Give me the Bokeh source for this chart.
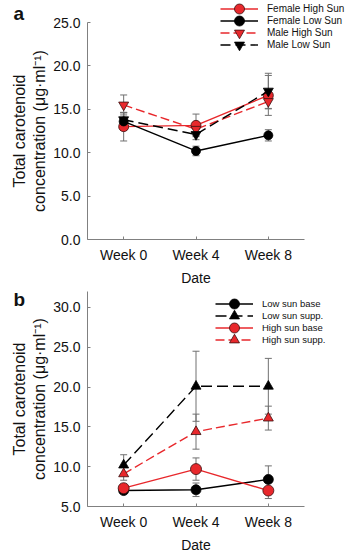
from bokeh.plotting import figure
from bokeh.models import (ColumnDataSource, Whisker, TeeHead, Legend, LegendItem,
                          FixedTicker, Label, NumeralTickFormatter, GridBox)
from bokeh.layouts import column
from bokeh.embed import file_html
from bokeh.resources import INLINE

weeks = ["Week 0", "Week 4", "Week 8"]
xpos = [0, 1, 2]

# Panel a
fem_high = [13.0, 13.15, 16.6]
fem_high_se = [1.65, 1.3, 2.3]
fem_low = [13.6, 10.2, 12.0]
fem_low_se = [1.0, 0.55, 0.65]
male_high = [15.5, 12.7, 15.9]
male_high_se = [1.15, 0.7, 0.8]
male_low = [13.8, 12.1, 17.1]
male_low_se = [0.8, 0.6, 2.05]

# Panel b
low_base = [7.0, 7.1, 8.4]
low_base_se = [0.3, 0.85, 1.7]
low_supp = [10.2, 20.1, 20.1]
low_supp_se = [1.3, 4.4, 3.5]
high_base = [7.3, 9.7, 7.0]
high_base_se = [0.5, 1.4, 1.0]
high_supp = [9.1, 14.4, 16.1]
high_supp_se = [0.8, 2.2, 1.5]

RED = "#E8282C"
BLK = "#000000"
RED_EDGE = "#3a1010"
AXC = "#808080"
ERRC = "#707070"
FONT = "Liberation Sans"
YTITLE = "Total carotenoid\nconcentration (\u03bcg\u00b7ml\u207b\u00b9)"

# style of each series: (label, color, marker, dash, size, fill, outline)
STYLE_A = [
    ("Female High Sun", RED, "circle", "solid", 10, RED, RED_EDGE),
    ("Female Low Sun", BLK, "circle", "solid", 9, BLK, BLK),
    ("Male High Sun", RED, "inverted_triangle", "9 4", 10, RED, RED_EDGE),
    ("Male Low Sun", BLK, "inverted_triangle", "10 5", 10, BLK, BLK),
]
STYLE_B = [
    ("Low sun base", BLK, "circle", "solid", 10, BLK, BLK),
    ("Low sun supp.", BLK, "triangle", "11 5", 10, BLK, BLK),
    ("High sun base", RED, "circle", "solid", 11, RED, RED_EDGE),
    ("High sun supp.", RED, "triangle", "9 4", 10, RED, RED_EDGE),
]


def make_fig(height, min_top, min_bottom, min_left, yr, yticks):
    p = figure(width=352, height=height, output_backend="svg", toolbar_location=None,
               x_range=(-0.5, 2.5), y_range=yr,
               min_border_left=min_left, min_border_right=352 - min_left - 219,
               min_border_top=min_top, min_border_bottom=min_bottom)
    p.outline_line_color = None
    p.grid.visible = False
    p.background_fill_color = "white"
    p.border_fill_color = "white"
    for ax in (p.xaxis[0], p.yaxis[0]):
        ax.axis_line_color = AXC
        ax.major_tick_line_color = AXC
        ax.major_tick_in = 3
        ax.major_tick_out = 0
        ax.minor_tick_line_color = None
        ax.major_label_text_font = FONT
        ax.major_label_text_font_size = "14px"
        ax.major_label_text_color = "#111111"
        ax.axis_label_text_font = FONT
        ax.axis_label_text_font_style = "normal"
        ax.axis_label_text_color = "#111111"
    p.xaxis.ticker = FixedTicker(ticks=xpos)
    p.xaxis.major_label_overrides = {i: w for i, w in zip(xpos, weeks)}
    p.xaxis.axis_label = "Date"
    p.xaxis.axis_label_text_font_size = "14px"
    p.xaxis.major_label_standoff = 7
    p.xaxis.axis_label_standoff = 4
    p.yaxis.ticker = FixedTicker(ticks=yticks)
    p.yaxis.formatter = NumeralTickFormatter(format="0.0")
    p.yaxis.axis_label = YTITLE
    p.yaxis.axis_label_text_font_size = "16px"
    p.yaxis.major_label_standoff = 7
    p.yaxis.axis_label_standoff = 2
    return p


def series(p, vals, se, style):
    _, color, marker, dash, size, fill, outline = style
    lo = [v - s for v, s in zip(vals, se)]
    hi = [v + s for v, s in zip(vals, se)]
    src = ColumnDataSource(dict(x=xpos, y=vals, lo=lo, hi=hi))
    w = Whisker(source=src, base="x", lower="lo", upper="hi", dimension="height",
                line_color=ERRC, line_width=1,
                upper_head=TeeHead(size=7, line_color=ERRC, line_width=1),
                lower_head=TeeHead(size=7, line_color=ERRC, line_width=1))
    p.add_layout(w)
    p.line("x", "y", source=src, line_color=color, line_width=1.4, line_dash=dash)
    p.scatter("x", "y", source=src, marker=marker, size=size, fill_color=fill,
              line_color=outline, line_width=0.8)


# ---- Panel a ----
pa = make_fig(288, 22, 46, 85, (0, 25), [0, 5, 10, 15, 20, 25])
for vals, se, st in zip([fem_high, fem_low, male_high, male_low],
                        [fem_high_se, fem_low_se, male_high_se, male_low_se], STYLE_A):
    series(pa, vals, se, st)

# ---- Panel b ----
pb = make_fig(267, 3, 45, 87, (5, 32), [5, 10, 15, 20, 25, 30])
for vals, se, st in zip([low_base, low_supp, high_base, high_supp],
                        [low_base_se, low_supp_se, high_base_se, high_supp_se], STYLE_B):
    series(pb, vals, se, st)

# ---- transparent overlay (pixel space) for legends and panel letters ----
OV_H = 555
ov = figure(width=352, height=OV_H, output_backend="svg", toolbar_location=None,
            x_range=(0, 352), y_range=(OV_H, 0), x_axis_type=None, y_axis_type=None,
            min_border=0, min_border_left=0, min_border_right=0,
            min_border_top=0, min_border_bottom=0)
ov.outline_line_color = None
ov.background_fill_alpha = 0
ov.border_fill_alpha = 0

NAN = float("nan")
GLYPH_H = 25


def overlay_legend(styles, x, top_row, step, fs):
    for i, st in enumerate(styles):
        label, color, marker, dash, size, fill, outline = st
        # legend proxy renderers: one undefined point, nothing is drawn in the plot
        src = ColumnDataSource(dict(x=[NAN], y=[NAN]))
        lr = ov.line("x", "y", source=src, line_color=color, line_width=1.4, line_dash=dash)
        sr = ov.scatter("x", "y", source=src, marker=marker, size=size, fill_color=fill,
                        line_color=outline, line_width=0.8)
        row_center = top_row + step * i
        lg = Legend(items=[LegendItem(label=label, renderers=[lr, sr])],
                    location=(x, OV_H - row_center - GLYPH_H / 2),
                    orientation="vertical",
                    glyph_width=38, glyph_height=GLYPH_H, label_height=12, spacing=0,
                    padding=0, margin=0, label_standoff=9,
                    label_text_font=FONT, label_text_font_size=fs,
                    label_text_color="#111111",
                    border_line_alpha=0, background_fill_alpha=0)
        ov.add_layout(lg)


overlay_legend(STYLE_A, 220, 8, 12.3, "10px")
overlay_legend(STYLE_B, 215, 303, 12.3, "9.5px")

for txt, ty in (("a", 13), ("b", 299)):
    ov.add_layout(Label(x=13, y=ty, text=txt, text_font=FONT, text_font_style="bold",
                        text_font_size="19px", text_baseline="alphabetic",
                        text_color="#111111"))

main_col = column(pa, pb, spacing=0)
ov_col = column(ov, spacing=0)
grid = GridBox(children=[(main_col, 0, 0), (ov_col, 0, 0)], spacing=0)
open("out.html", "w").write(file_html(grid, INLINE))
